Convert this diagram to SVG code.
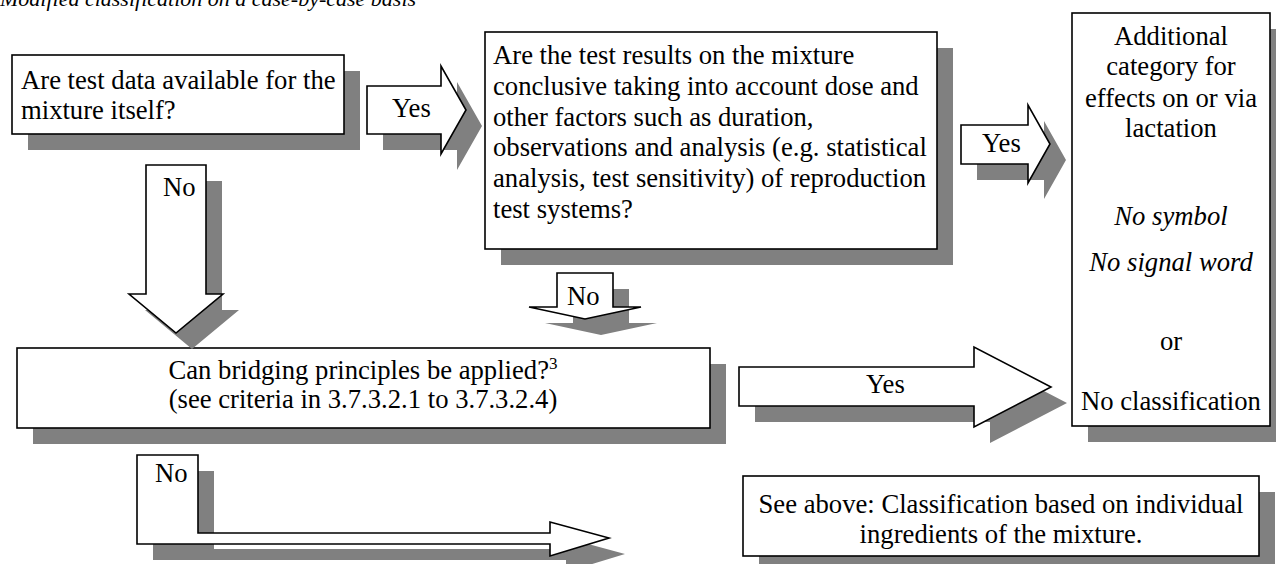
<svg xmlns="http://www.w3.org/2000/svg" width="1276" height="564" viewBox="0 0 1276 564">
  <style>
    text { font-family: "Liberation Serif", "Times New Roman", serif; font-size: 26.67px; fill: #000; }
    .title { font-size: 22px; font-style: italic; }
    .it { font-style: italic; }
    .mid { text-anchor: middle; }
    .shape { fill: #fff; stroke: #000; stroke-width: 1.6; stroke-linejoin: miter; }
    .shadow { fill: #808080; stroke: none; }
  </style>
  <defs>
    <polygon id="arrow-yes1" points="367,86 441,86 441,66 466,110 441,154 441,134 367,134"/>
    <polygon id="arrow-no1" points="146,165 206,165 206,294 223,294 176,333 129,294 146,294"/>
    <polygon id="arrow-yes3" points="961,125 1028,125 1028,105 1050,144 1028,183 1028,164 961,164"/>
    <polygon id="arrow-no2" points="557,273 613,273 613,307 641,307 585,319 529,307 557,307"/>
    <polygon id="arrow-yes2" points="739,367 974,367 974,347 1051,387 974,427 974,406 739,406"/>
    <polygon id="arrow-no3" points="137,455 198,455 198,533 550,533 550,522 609,538 550,556 550,544 137,544"/>
  </defs>

  <text class="title" x="0" y="6">Modified classification on a case-by-case basis</text>

  <!-- decision: data for the mixture -->
  <g id="q-test-data">
    <rect class="shadow" x="28" y="71" width="332" height="79"/>
    <rect class="shape" x="12" y="55" width="332" height="79"/>
    <text x="21" y="89">Are test data available for the</text>
    <text x="21" y="119">mixture itself?</text>
  </g>

  <!-- decision: conclusive results -->
  <g id="q-conclusive">
    <rect class="shadow" x="501" y="48" width="452" height="217"/>
    <rect class="shape" x="485" y="32" width="452" height="217"/>
    <text x="493" y="64">Are the test results on the mixture</text>
    <text x="493" y="95">conclusive taking into account dose and</text>
    <text x="493" y="126">other factors such as duration,</text>
    <text x="493" y="156">observations and analysis (e.g. statistical</text>
    <text x="493" y="187">analysis, test sensitivity) of reproduction</text>
    <text x="493" y="218">test systems?</text>
  </g>

  <!-- result: lactation category -->
  <g id="result-lactation">
    <rect class="shadow" x="1088" y="29" width="198" height="413"/>
    <rect class="shape" x="1072" y="13" width="198" height="413"/>
    <text class="mid" x="1171" y="45">Additional</text>
    <text class="mid" x="1171" y="75">category for</text>
    <text class="mid" x="1171" y="107">effects on or via</text>
    <text class="mid" x="1171" y="137">lactation</text>
    <text class="mid it" x="1171" y="225">No symbol</text>
    <text class="mid it" x="1171" y="271">No signal word</text>
    <text class="mid" x="1171" y="350">or</text>
    <text class="mid" x="1171" y="410">No classification</text>
  </g>

  <!-- decision: bridging principles -->
  <g id="q-bridging">
    <rect class="shadow" x="33" y="364" width="693" height="80"/>
    <rect class="shape" x="17" y="348" width="693" height="80"/>
    <text class="mid" x="363" y="379">Can bridging principles be applied?<tspan font-size="17" dy="-10">3</tspan></text>
    <text class="mid" x="363" y="408">(see criteria in 3.7.3.2.1 to 3.7.3.2.4)</text>
  </g>

  <!-- result: ingredients -->
  <g id="result-ingredients">
    <rect class="shadow" x="759" y="492" width="516" height="80"/>
    <rect class="shape" x="743" y="476" width="516" height="80"/>
    <text class="mid" x="1001" y="513">See above: Classification based on individual</text>
    <text class="mid" x="1001" y="543">ingredients of the mixture.</text>
  </g>

  <!-- block arrows -->
  <g id="connectors">
    <g id="c-yes1">
      <use href="#arrow-yes1" class="shadow" transform="translate(16,16)"/>
      <use href="#arrow-yes1" class="shape"/>
      <text x="392" y="117">Yes</text>
    </g>
    <g id="c-no1">
      <use href="#arrow-no1" class="shadow" transform="translate(16,16)"/>
      <use href="#arrow-no1" class="shape"/>
      <text x="163" y="196">No</text>
    </g>
    <g id="c-yes3">
      <use href="#arrow-yes3" class="shadow" transform="translate(16,16)"/>
      <use href="#arrow-yes3" class="shape"/>
      <text x="982" y="152">Yes</text>
    </g>
    <g id="c-no2">
      <use href="#arrow-no2" class="shadow" transform="translate(16,16)"/>
      <use href="#arrow-no2" class="shape"/>
      <text x="567" y="305">No</text>
    </g>
    <g id="c-yes2">
      <use href="#arrow-yes2" class="shadow" transform="translate(16,16)"/>
      <use href="#arrow-yes2" class="shape"/>
      <text x="866" y="393">Yes</text>
    </g>
    <g id="c-no3">
      <use href="#arrow-no3" class="shadow" transform="translate(16,16)"/>
      <use href="#arrow-no3" class="shape"/>
      <text x="155" y="482">No</text>
    </g>
  </g>
</svg>
